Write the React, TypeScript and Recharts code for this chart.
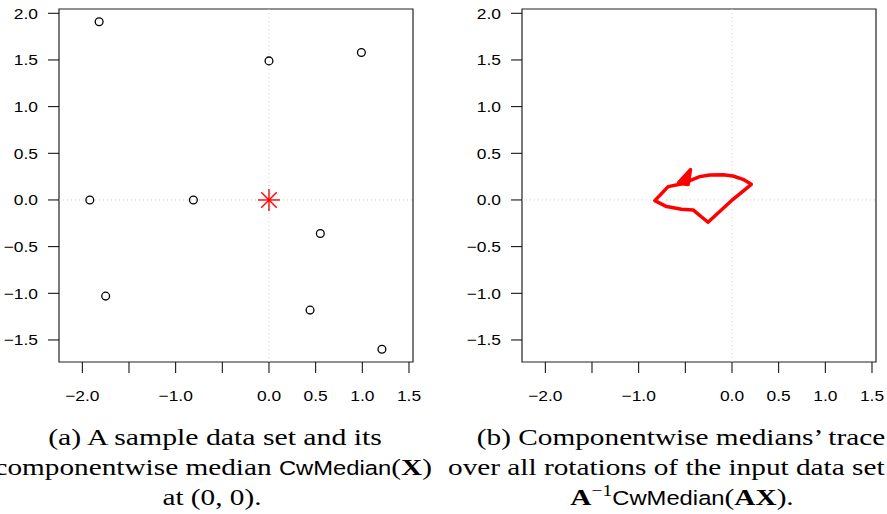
import { ScatterChart, Scatter, XAxis, YAxis, ReferenceLine, ReferenceArea } from 'recharts';

// sample data set (panel a)
const sampleX = [-1.82, 0.0, 0.99, -1.92, -0.81, 0.55, -1.75, 0.44, 1.21];
const sampleY = [1.91, 1.49, 1.58, 0.0, 0.0, -0.36, -1.03, -1.18, -1.6];

// componentwise median
const medianX = [0];
const medianY = [0];

// trace of A^-1 CwMedian(AX) over rotations (panel b)
const traceX = [0.011, -0.257, -0.417, -0.541, -0.7, -0.827, -0.684, -0.559, -0.506, -0.345, -0.239, -0.096, 0.011, 0.118, 0.207, 0.011];
const traceY = [0.007, -0.239, -0.107, -0.1, -0.071, -0.007, 0.143, 0.168, 0.186, 0.25, 0.268, 0.271, 0.257, 0.221, 0.168, 0.007];

// arrow head at the end of the trace
const arrowX = [-0.58, -0.445, -0.47, -0.58];
const arrowY = [0.178, 0.325, 0.165, 0.178];

const xTicks = [-2, -1.5, -1, -0.5, 0, 0.5, 1, 1.5];
const xTickLabels = ['−2.0', '', '−1.0', '', '0.0', '0.5', '1.0', '1.5'];
const yTicks = [-1.5, -1, -0.5, 0, 0.5, 1, 1.5, 2];
const yTickLabels = ['−1.5', '−1.0', '−0.5', '0.0', '0.5', '1.0', '1.5', '2.0'];

const xDomain = [-2.25, 1.543];
const yDomain = [-1.736, 2.046];

const zip = (xs: number[], ys: number[]) => xs.map((x, i) => ({ x, y: ys[i] }));

const sample = zip(sampleX, sampleY);
const median = zip(medianX, medianY);
const trace = zip(traceX, traceY);
const arrow = zip(arrowX, arrowY);

const tickFont = 'Liberation Sans, Arial, sans-serif';

const XTick = (props: any) => {
    const { x, y, payload } = props;
    const label = xTickLabels[xTicks.indexOf(payload.value)] ?? '';
    return (
        <g transform={`translate(${x},${y})`}>
            <text transform="scale(1.16,1)" textAnchor="middle" dy="0.71em" fontSize={15} fontFamily={tickFont} fill="#000">
                {label}
            </text>
        </g>
    );
};

const YTick = (props: any) => {
    const { x, y, payload } = props;
    const label = yTickLabels[yTicks.indexOf(payload.value)] ?? '';
    return (
        <g transform={`translate(${x},${y})`}>
            <text transform="scale(1.16,1)" textAnchor="end" dy="0.36em" fontSize={15} fontFamily={tickFont} fill="#000">
                {label}
            </text>
        </g>
    );
};

const OpenCircle = (props: any) => (
    <circle cx={props.cx} cy={props.cy} r={3.9} fill="none" stroke="#000" strokeWidth={1.3} />
);

const Star = (props: any) => {
    const { cx, cy } = props;
    const r = 11;
    const d = r * 0.707;
    return (
        <g stroke="#ff0000" strokeWidth={1.4}>
            <line x1={cx - r} y1={cy} x2={cx + r} y2={cy} />
            <line x1={cx} y1={cy - r} x2={cx} y2={cy + r} />
            <line x1={cx - d} y1={cy - d} x2={cx + d} y2={cy + d} />
            <line x1={cx - d} y1={cy + d} x2={cx + d} y2={cy - d} />
        </g>
    );
};

const NoDot = () => <g />;

function Panel({ children }: { children: React.ReactNode }) {
    return (
        <ScatterChart width={430} height={410} margin={{ top: 9, right: 17, bottom: 18, left: 9 }} style={{ overflow: 'visible' }}>
            <XAxis
                type="number"
                dataKey="x"
                domain={xDomain}
                ticks={xTicks}
                interval={0}
                allowDataOverflow
                axisLine={false}
                tickLine={{ stroke: '#000' }}
                tickSize={11}
                tickMargin={17}
                height={30}
                tick={<XTick />}
            />
            <YAxis
                type="number"
                dataKey="y"
                domain={yDomain}
                ticks={yTicks}
                interval={0}
                allowDataOverflow
                axisLine={false}
                tickLine={{ stroke: '#000' }}
                tickSize={11}
                tickMargin={10}
                width={50}
                tick={<YTick />}
            />
            <ReferenceLine x={0} stroke="#cfcfcf" strokeDasharray="1 3" />
            <ReferenceLine y={0} stroke="#cfcfcf" strokeDasharray="1 3" />
            <ReferenceArea x1={xDomain[0]} x2={xDomain[1]} y1={yDomain[0]} y2={yDomain[1]} fill="none" stroke="#222" strokeWidth={1.2} />
            {children}
        </ScatterChart>
    );
}

export default function App() {
    const serif = 'Liberation Serif, Times New Roman, serif';
    const sans = 'Liberation Sans, Arial, sans-serif';
    return (
        <div style={{ position: 'absolute', left: 0, top: 0, width: 887, height: 514, overflow: 'hidden', background: '#fff' }}>
            <div style={{ position: 'absolute', left: 0, top: 0 }}>
                <Panel>
                    <Scatter data={sample} shape={<OpenCircle />} isAnimationActive={false} />
                    <Scatter data={median} shape={<Star />} isAnimationActive={false} />
                </Panel>
            </div>
            <div style={{ position: 'absolute', left: 463, top: 0 }}>
                <Panel>
                    <Scatter data={trace} line={{ stroke: '#ff0000', strokeWidth: 3.5, strokeLinejoin: 'round' }} shape={<NoDot />} isAnimationActive={false} />
                    <Scatter data={arrow} line={{ stroke: '#ff0000', strokeWidth: 3.5, strokeLinejoin: 'round', fill: '#ff0000' }} shape={<NoDot />} isAnimationActive={false} />
                </Panel>
            </div>
            <svg width={887} height={514} style={{ position: 'absolute', left: 0, top: 0, pointerEvents: 'none' }}>
                <g fontFamily={serif} fontSize={24} fill="#000">
                    <text transform="translate(215,445) scale(1.24,1)" textAnchor="middle">(a) A sample data set and its</text>
                    <text transform="translate(432,475) scale(1.22,1)" textAnchor="end">
                        componentwise median <tspan fontFamily={sans} fontSize={19.5}>CwMedian</tspan>(<tspan fontWeight="bold">X</tspan>)
                    </text>
                    <text transform="translate(212,505) scale(1.22,1)" textAnchor="middle">at (0, 0).</text>
                    <text transform="translate(681,445) scale(1.22,1)" textAnchor="middle">(b) Componentwise medians’ trace</text>
                    <text transform="translate(448,475) scale(1.22,1)" textAnchor="start">over all rotations of the input data set</text>
                    <text transform="translate(682,505) scale(1.22,1)" textAnchor="middle">
                        <tspan fontWeight="bold">A</tspan>
                        <tspan fontSize={16} dy={-9}>−1</tspan>
                        <tspan fontFamily={sans} fontSize={19.5} dy={9}>CwMedian</tspan>(<tspan fontWeight="bold">AX</tspan>).
                    </text>
                </g>
            </svg>
        </div>
    );
}
